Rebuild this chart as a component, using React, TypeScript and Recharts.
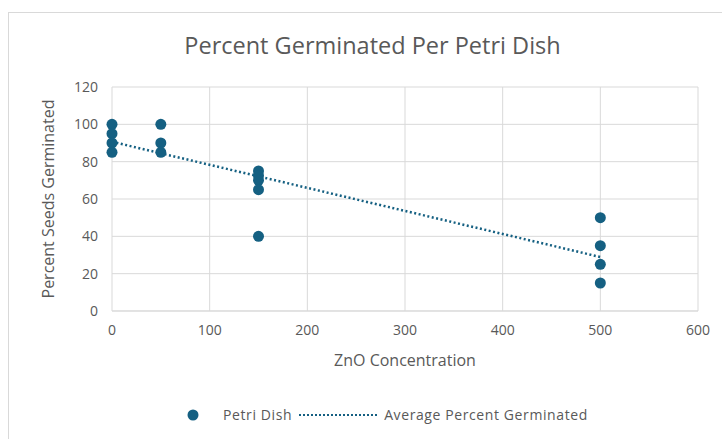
import React from 'react';
import { ScatterChart, Scatter, XAxis, YAxis, CartesianGrid, Label } from 'recharts';

// ZnO concentration of each petri dish and its germination percentage
const concentrations = [0, 0, 0, 0, 50, 50, 50, 150, 150, 150, 150, 150, 500, 500, 500, 500];
const germinated = [100, 95, 90, 85, 100, 90, 85, 75, 72.5, 70, 65, 40, 50, 35, 25, 15];

const xTicks = [0, 100, 200, 300, 400, 500, 600];
const yTicks = [0, 20, 40, 60, 80, 100, 120];
const seriesNames = ['Petri Dish', 'Average Percent Germinated'];

const COLOR = '#156082';
const TEXT = '#595959';
const FONT = '"Open Sans", sans-serif';

const dishes = concentrations.map((x, i) => ({ x, y: germinated[i] }));

// linear trendline (least squares), like Excel's
const n = dishes.length;
const mx = dishes.reduce((s, d) => s + d.x, 0) / n;
const my = dishes.reduce((s, d) => s + d.y, 0) / n;
const slope =
  dishes.reduce((s, d) => s + (d.x - mx) * (d.y - my), 0) /
  dishes.reduce((s, d) => s + (d.x - mx) ** 2, 0);
const intercept = my - slope * mx;
const xMin = Math.min(...concentrations);
const xMax = Math.max(...concentrations);
const trend = [xMin, xMax].map((x) => ({ x, y: intercept + slope * x }));

const Dot = (props: any) => <circle cx={props.cx} cy={props.cy} r={5.5} fill={COLOR} />;

export default function App() {
  return (
    <div style={{ position: 'relative', width: 722, height: 439, background: '#fff', overflow: 'hidden', fontFamily: FONT }}>
      <style>{'body{margin:0}'}</style>
      <div style={{ position: 'absolute', left: 8, top: 12, width: 760, height: 480, border: '1px solid #d9d9d9' }} />
      <div style={{ position: 'absolute', left: 0, width: 745, top: 29, textAlign: 'center', fontSize: 23.5, color: TEXT, lineHeight: '32px' }}>
        Percent Germinated Per Petri Dish
      </div>
      <div style={{ position: 'absolute', left: 0, top: 0 }}>
        <ScatterChart width={722} height={439} margin={{ top: 87, right: 24, bottom: 98, left: 52 }}>
          <CartesianGrid stroke="#d9d9d9" />
          <XAxis
            type="number"
            dataKey="x"
            domain={[0, 600]}
            ticks={xTicks}
            height={30}
            tickSize={0}
            tickMargin={14}
            axisLine={{ stroke: '#d9d9d9' }}
            tick={{ fill: TEXT, fontSize: 14, fontFamily: FONT }}
          >
            <Label value="ZnO Concentration" position="bottom" offset={14} fill={TEXT} fontSize={16} fontFamily={FONT} />
          </XAxis>
          <YAxis
            type="number"
            dataKey="y"
            domain={[0, 120]}
            ticks={yTicks}
            width={60}
            tickSize={0}
            tickMargin={14}
            axisLine={false}
            tick={{ fill: TEXT, fontSize: 14, fontFamily: FONT }}
          >
            <Label value="Percent Seeds Germinated" angle={-90} position="insideLeft" offset={-4} fill={TEXT} fontSize={16} fontFamily={FONT} style={{ textAnchor: 'middle' }} />
          </YAxis>
          <Scatter name={seriesNames[1]} data={trend} line={{ stroke: COLOR, strokeWidth: 2.5, strokeDasharray: '2 2.5' }} shape={() => null} isAnimationActive={false} />
          <Scatter name={seriesNames[0]} data={dishes} fill={COLOR} shape={<Dot />} isAnimationActive={false} />
        </ScatterChart>
      </div>
      <div style={{ position: 'absolute', top: 405, left: 187, display: 'flex', alignItems: 'center', fontSize: 14, color: TEXT, letterSpacing: 0.6 }}>
        <svg width={12} height={12} style={{ marginRight: 24 }}>
          <circle cx={6} cy={6} r={5.5} fill={COLOR} />
        </svg>
        <span>{seriesNames[0]}</span>
        <svg width={78} height={6} style={{ marginLeft: 7, marginRight: 7 }}>
          <line x1={0} y1={3} x2={78} y2={3} stroke={COLOR} strokeWidth={2} strokeDasharray="2 2" />
        </svg>
        <span>{seriesNames[1]}</span>
      </div>
    </div>
  );
}
